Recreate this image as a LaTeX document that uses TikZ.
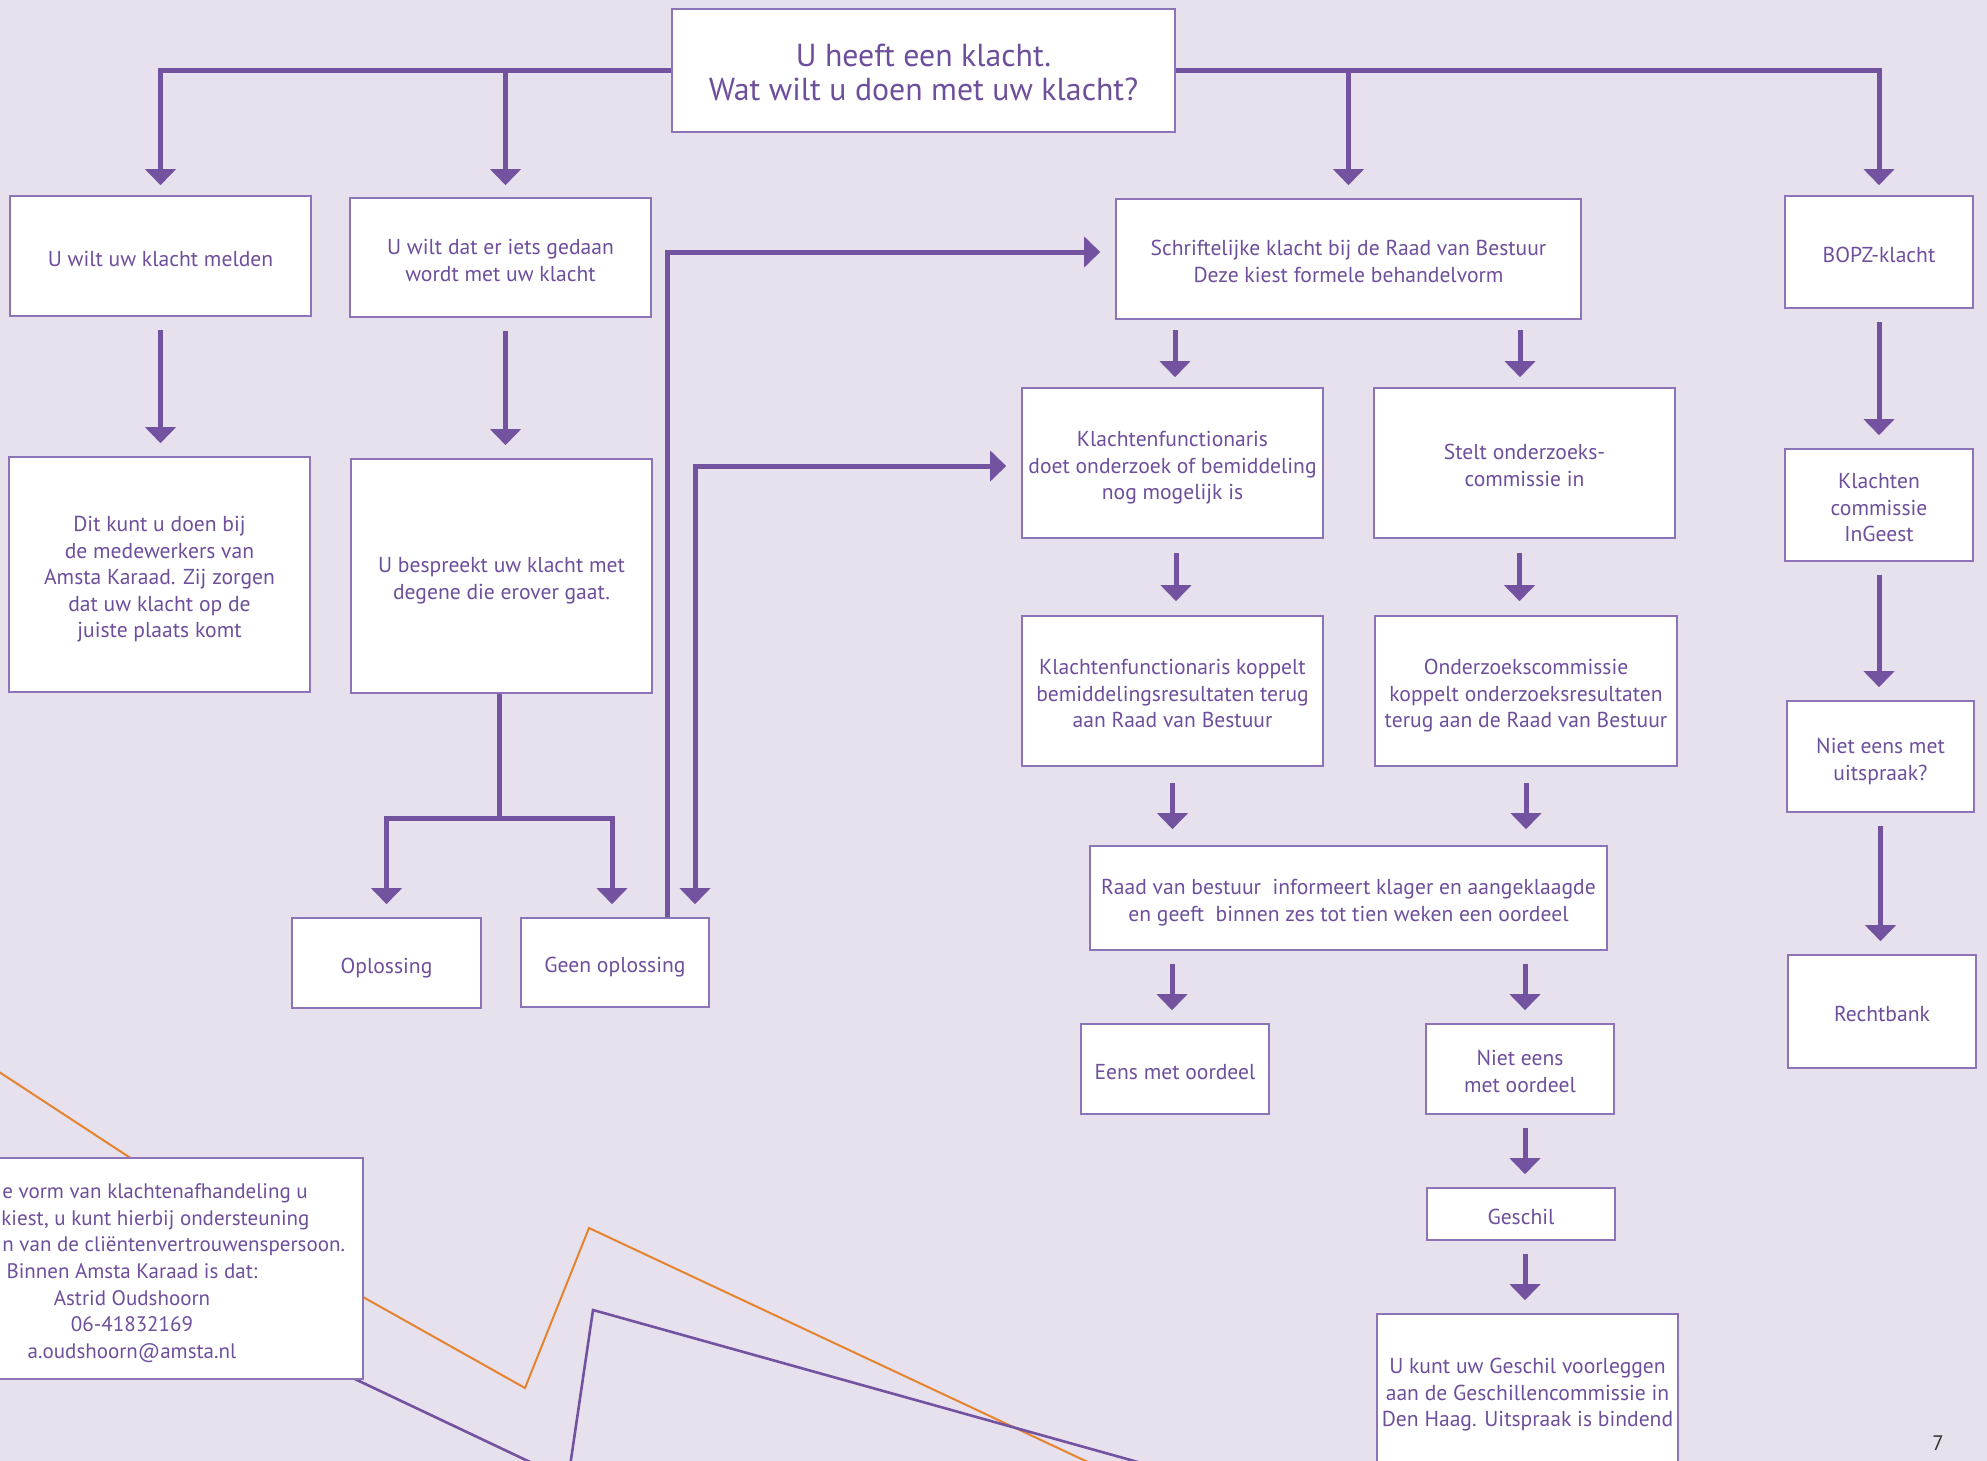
\documentclass[tikz,border=0pt]{standalone}
\usepackage{fontspec}
\setmainfont{PT Sans}
\usetikzlibrary{arrows.meta,calc}
\definecolor{bg}{HTML}{E7E1EE}
\definecolor{pline}{HTML}{7352A0}
\definecolor{pborder}{HTML}{8D74B8}
\definecolor{ptext}{HTML}{6E4F9C}
\definecolor{orangeline}{HTML}{E5832F}
\newcommand\mytop{\rule{0pt}{13pt}}
\newcommand\mybot{\rule[-2.8pt]{0pt}{0pt}}
\newcommand\ttop{\rule{0pt}{17pt}}
\newcommand\tbot{\rule[-4.2pt]{0pt}{0pt}}
\begin{document}
\begin{tikzpicture}[x=0.5pt,y=-0.5pt,
  >={Triangle[width=15pt,length=8pt]},
  box/.style={draw=pborder, line width=0.8pt, fill=white, text=ptext, align=center, inner sep=0pt,
    font=\fontsize{10.8pt}{13.3pt}\selectfont},
  titlebox/.style={box, font=\fontsize{15.9pt}{17.2pt}\selectfont},
  itxt/.style={text=ptext, inner sep=0pt, font=\fontsize{10.5pt}{13.3pt}\selectfont},
  conn/.style={draw=pline, line width=2.5pt, ->},
  trunk/.style={draw=pline, line width=2.5pt},
  gap/.style={shorten <=#1, shorten >=#1}, gap/.default=6.5pt
]
\fill[bg] (0,0) rectangle (1987,1461);
\useasboundingbox (0,0) rectangle (1987,1461);
\clip (0,0) rectangle (1987,1461);

% decorative lines
\draw[orangeline, line width=1pt] (-10,1066) -- (129,1157) -- (363,1297) -- (525,1388) -- (589,1228) -- (1107,1471);
\draw[pline, line width=1.3pt] (300,1353) -- (568,1480) -- (593,1310) -- (1170,1471);

% boxes
\node[titlebox, minimum width=251.5pt, minimum height=61.5pt] (top) at (923.5,70.5) {\ttop U heeft een klacht.\\Wat wilt u doen met uw klacht?\tbot};
\node[box, minimum width=150.5pt, minimum height=60pt] (b2) at (160.5,256) {\mytop U wilt uw klacht melden\mybot};
\node[box, minimum width=150.5pt, minimum height=59.5pt] (b3) at (500.5,257.5) {\mytop U wilt dat er iets gedaan\\wordt met uw klacht\mybot};
\node[box, minimum width=150.5pt, minimum height=117.5pt] (b4) at (159.5,574.5) {\mytop Dit kunt u doen bij\\de medewerkers van\\Amsta Karaad. Zij zorgen\\dat uw klacht op de\\juiste plaats komt\mybot};
\node[box, minimum width=150.5pt, minimum height=117pt] (b5) at (501.5,576) {\mytop U bespreekt uw klacht met\\degene die erover gaat.\mybot};
\node[box, minimum width=94.5pt, minimum height=45pt] (b6) at (386.5,963) {\mytop Oplossing\mybot};
\node[box, minimum width=94pt, minimum height=44.5pt] (b7) at (615,962.5) {\mytop Geen oplossing\mybot};
\node[box, minimum width=232.5pt, minimum height=60pt] (b8) at (1348.5,259) {\mytop Schriftelijke klacht bij de Raad van Bestuur\\Deze kiest formele behandelvorm\mybot};
\node[box, minimum width=94pt, minimum height=56pt] (b9) at (1879,252) {\mytop BOPZ-klacht\mybot};
\node[box, minimum width=150.5pt, minimum height=75pt] (b10) at (1172.5,463) {\mytop Klachtenfunctionaris\\doet onderzoek of bemiddeling\\nog mogelijk is\mybot};
\node[box, minimum width=150.5pt, minimum height=75pt] (b11) at (1524.5,463) {\mytop Stelt onderzoeks-\\commissie in\mybot};
\node[box, minimum width=94pt, minimum height=56pt] (b12) at (1879,505) {\mytop Klachten\\commissie\\InGeest\mybot};
\node[box, minimum width=150.5pt, minimum height=75pt] (b13) at (1172.5,691) {\mytop Klachtenfunctionaris koppelt\\bemiddelingsresultaten terug\\aan Raad van Bestuur\mybot};
\node[box, minimum width=151pt, minimum height=75pt] (b14) at (1526,691) {\mytop Onderzoekscommissie\\koppelt onderzoeksresultaten\\terug aan de Raad van Bestuur\mybot};
\node[box, minimum width=93.5pt, minimum height=55.5pt] (b15) at (1880.5,756.5) {\mytop Niet eens met\\uitspraak?\mybot};
\node[box, minimum width=258.5pt, minimum height=52pt] (b16) at (1348.5,898) {\mytop Raad van bestuur\ \ informeert klager en aangeklaagde\\en geeft\ \ binnen zes tot tien weken een oordeel\mybot};
\node[box, minimum width=94pt, minimum height=56.5pt] (b17) at (1882,1011.5) {\mytop Rechtbank\mybot};
\node[box, minimum width=94pt, minimum height=45pt] (b18) at (1175,1069) {\mytop Eens met oordeel\mybot};
\node[box, minimum width=94pt, minimum height=45pt] (b19) at (1520,1069) {\mytop Niet eens\\met oordeel\mybot};
\node[box, minimum width=94pt, minimum height=26pt] (b20) at (1521,1214) {\mytop Geschil\mybot};
\node[box, minimum width=150.5pt, minimum height=76pt] (b21) at (1527.5,1390) {\mytop U kunt uw Geschil voorleggen\\aan de Geschillencommissie in\\Den Haag. Uitspraak is bindend\mybot};
\node[box, minimum width=186.5pt, minimum height=110.5pt] (b22) at (176.5,1268.5) {};
\node[itxt, anchor=mid west] (i1) at (2,1193) {e vorm van klachtenafhandeling u};
\node[itxt, anchor=mid west] (i2) at (1,1220) {kiest, u kunt hierbij ondersteuning};
\node[itxt, anchor=mid west] (i3) at (2,1246) {n van de cliëntenvertrouwenspersoon.};
\node[itxt, anchor=mid] (i4) at (132,1273) {Binnen Amsta Karaad is dat:};
\node[itxt, anchor=mid] (i5) at (132,1300) {Astrid Oudshoorn};
\node[itxt, anchor=mid] (i6) at (132,1326) {06-41832169};
\node[itxt, anchor=mid] (i7) at (132,1353) {a.oudshoorn@amsta.nl};
\node[text=black!80, inner sep=0pt, font=\fontsize{10.5pt}{12pt}\selectfont] (pnum) at (1938,1443) {7};

% connectors from the top question
\draw[conn] (top.west) -| ($(b2.north)+(0,-10)$);
\draw[conn] ([xshift=2.5pt]top.west -| b3.north) -- ($(b3.north)+(5,-12)$);
\draw[conn] (top.east) -| ($(b9.north)+(0,-10)$);
\draw[conn] (top.east -| b8.north) -- ($(b8.north)+(0,-13)$);

% left column
\draw[conn, gap] (b2.south) -- (b2.south |- b4.north);
\draw[conn, gap] ([xshift=2.5pt]b3.south) -- ([xshift=2.5pt]b3.south |- b5.north);
\coordinate (split) at ($(b5.south)+(-2,125)$);
\draw[trunk] ($(b5.south)+(-2,0)$) -- (split);
\draw[conn] (split) -| ($(b6.north)+(0,-13)$);
\draw[conn] (split) -| ($(b7.north)+(-3,-13)$);
\draw[conn] ([xshift=26pt]b7.north) |- ($(b8.west)+(-15,-7)$);
\draw[conn, <->] ($(b7.north)+(80,-13)$) |- ($(b10.west)+(-15,3)$);

% middle columns
\draw[conn, gap=5pt] ([xshift=1.25pt]b8.south -| b10.north) -- ([xshift=1.25pt]b10.north);
\draw[conn, gap=5pt] ([xshift=-2.25pt]b8.south -| b11.north) -- ([xshift=-2.25pt]b11.north);
\draw[conn, gap=7pt] ([xshift=1.75pt]b10.south) -- ([xshift=1.75pt]b13.north);
\draw[conn, gap=7pt] ([xshift=-2.5pt]b11.south) -- ([xshift=-2.5pt]b11.south |- b14.north);
\draw[conn, gap=8pt] (b13.south) -- (b13.south |- b16.north);
\draw[conn, gap=8pt] (b14.south) -- (b14.south |- b16.north);
\draw[conn, gap] ([xshift=-1.5pt]b16.south -| b18.north) -- ([xshift=-1.5pt]b18.north);
\draw[conn, gap] ([xshift=2.5pt]b16.south -| b19.north) -- ([xshift=2.5pt]b19.north);
\draw[conn, gap] ([xshift=2.5pt]b19.south) -- ([xshift=2.5pt]b19.south |- b20.north);
\draw[conn, gap] ([xshift=2pt]b20.south) -- ([xshift=2pt]b20.south |- b21.north);

% right column
\draw[conn, gap] (b9.south) -- (b9.south |- b12.north);
\draw[conn, gap] (b12.south) -- (b12.south |- b15.north);
\draw[conn, gap] (b15.south) -- (b15.south |- b17.north);
\end{tikzpicture}
\end{document}
